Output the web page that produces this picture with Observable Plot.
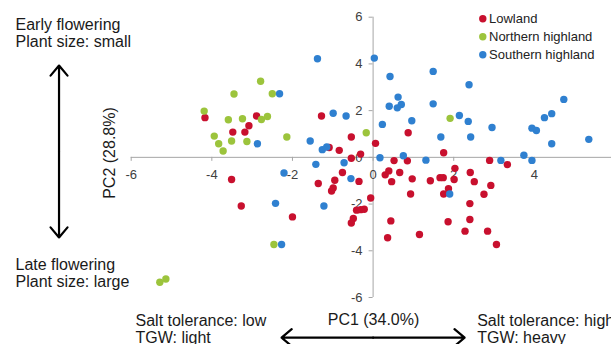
<!DOCTYPE html>
<html><head><meta charset="utf-8">
<script src="https://cdn.jsdelivr.net/npm/d3@7"></script>
<script src="https://cdn.jsdelivr.net/npm/@observablehq/plot@0.6"></script>
<style>
html,body{margin:0;padding:0;background:#fff;overflow:hidden;}
#chart{width:611px;height:344px;overflow:hidden;}
</style></head><body><div id="chart"></div>
<script>
// ---- data ----
const categories = ["Lowland", "Northern highland", "Southern highland"];
const colors = ["#c8102e", "#9cc43c", "#2f80d0"];

const lowland = [
  [-4.17,1.70],[-3.48,1.08],[-3.18,1.08],[-3.08,1.35],[-2.89,1.77],[-1.28,1.77],
  [-0.54,0.87],[-0.84,0.30],[-1.09,0.42],[-0.31,0.14],[-0.54,-0.04],[0.06,0.60],
  [0.87,1.05],[1.75,0.20],[0.52,-0.14],[0.85,-0.15],[0.30,-0.75],[0.39,-0.58],
  [0.66,-0.65],[0.46,-1.04],[0.97,-0.92],[0.93,-1.57],[1.42,-1.00],[1.66,-0.87],
  [1.74,-0.87],[-0.35,-1.03],[-0.95,-0.98],[-0.76,-0.65],[-1.36,-1.12],[-0.99,-1.31],
  [-1.03,-1.44],[-0.06,-1.74],[1.75,-1.57],[2.89,-0.13],[3.33,-0.31],[2.03,-0.47],
  [2.01,-0.95],[2.41,-0.65],[2.51,-1.04],[2.92,-1.20],[2.75,-1.58],[1.87,-1.34],
  [2.40,-1.98],[0.44,-2.72],[1.86,-2.76],[2.40,-2.66],[0.36,-3.44],[1.15,-3.30],
  [2.28,-3.16],[2.84,-3.16],[3.06,-3.73],[-3.51,-0.95],[-3.27,-2.08],[-2.00,-2.55],
  [-0.41,-2.26],[-0.31,-2.24],[-0.22,-2.22],[-0.49,-2.62],[-0.54,-2.81]
];
const northernHighland = [
  [-4.19,1.98],[-3.94,0.91],[-3.83,0.58],[-3.72,0.27],[-3.59,1.61],[-3.51,0.70],
  [-3.45,2.71],[-3.24,1.65],[-3.13,0.68],[-2.79,3.26],[-2.77,1.62],[-2.62,1.75],
  [-2.50,2.72],[-2.14,0.87],[-0.17,1.05],[1.91,1.67],[-2.46,-3.73],[-5.29,-5.35],
  [-5.14,-5.21]
];
const southernHighland = [
  [-1.38,4.22],[0.03,4.25],[-2.32,2.72],[-0.99,1.89],[-0.67,1.77],[-2.87,0.58],
  [-1.56,0.70],[-1.26,0.33],[-1.15,0.44],[-0.72,-0.23],[-1.42,-0.30],[-0.55,-0.91],
  [0.17,-0.02],[0.75,0.07],[1.31,-0.12],[0.23,1.41],[0.96,1.57],[0.40,2.19],
  [0.62,2.58],[0.60,2.12],[0.70,2.26],[1.49,2.29],[1.68,0.87],[0.42,3.46],
  [1.49,3.68],[2.38,3.11],[2.14,1.79],[2.36,1.54],[2.42,0.87],[2.95,1.28],
  [3.94,1.25],[4.05,1.15],[4.25,1.70],[4.43,1.87],[4.73,2.48],[4.43,0.58],
  [5.35,0.77],[3.17,-0.13],[3.74,0.09],[3.94,-0.13],[1.90,-1.57],[-2.21,-0.67],
  [-2.42,-1.97],[-1.22,-2.08],[-2.27,-3.73]
];

const xTicks = [-6, -4, -2, 0, 2, 4];
const yTicks = [-6, -4, -2, 0, 2, 4, 6];
const xTitle = "PC1 (34.0%)";
const yTitle = "PC2 (28.8%)";
const topLeftNote = "Early flowering\nPlant size: small";
const bottomLeftNote = "Late flowering\nPlant size: large";
const lowNote = "Salt tolerance: low\nTGW: light";
const highNote = "Salt tolerance: high\nTGW: heavy";

// ---- table ----
const groups = [lowland, northernHighland, southernHighland];
const points = groups.flatMap((g, i) => g.map(([pc1, pc2]) => ({group: categories[i], pc1, pc2})));

// ---- layout / style ----
const W = 611, H = 344;
const xRange = [130.7, 614.5], yRange = [297, 16.7];
const pxX = (xRange[1] - xRange[0]) / 12, pxY = (yRange[0] - yRange[1]) / 12;
const tickY = 4 / pxY, tickXlen = 4 / pxX;
const font = "'Liberation Sans', Arial, sans-serif";
const axisColor = "#a6a6a6";
const labelColor = "#404040";
const noteColor = "#1a1a1a";

// annotation arrows (data units)
const vArrowX = -7.79, vArrowMid = 0.25, vArrowHalf = 3.68;
const hArrowY = -7.72, hArrowMid = 0, hArrowHalf = 2.27;
const arrows = [
  {x1: vArrowX, y1: vArrowMid, x2: vArrowX, y2: vArrowMid + vArrowHalf},
  {x1: vArrowX, y1: vArrowMid, x2: vArrowX, y2: vArrowMid - vArrowHalf},
  {x1: hArrowMid, y1: hArrowY, x2: hArrowMid + hArrowHalf, y2: hArrowY},
  {x1: hArrowMid, y1: hArrowY, x2: hArrowMid - hArrowHalf, y2: hArrowY}
];

const legendMarks = categories.flatMap((c, i) => [
  Plot.dot([c], {frameAnchor: "top-left", dx: 482.3, dy: 18.3 + 18 * i, fill: d => d, r: 3.7}),
  Plot.text([c], {frameAnchor: "top-left", dx: 488.5, dy: 18.3 + 18 * i, text: d => d,
    textAnchor: "start", lineAnchor: "middle", fontSize: 13, fill: "#222"})
]);

const note = (t, dx, dy, lh, anchor = "start") => Plot.text([t], {
  frameAnchor: "top-left", dx, dy, text: d => d, textAnchor: anchor, lineAnchor: "top",
  fontSize: 16, lineHeight: lh, fill: noteColor
});

const chart = Plot.plot({
  width: W, height: H,
  marginTop: 0, marginRight: 0, marginBottom: 0, marginLeft: 0,
  style: {fontFamily: font, background: "#fff", overflow: "hidden"},
  x: {domain: [-6, 6], range: xRange, axis: null},
  y: {domain: [-6, 6], range: yRange, axis: null},
  color: {domain: categories, range: colors},
  marks: [
    // axis lines
    Plot.ruleY([0], {x1: -6, x2: 6.5, stroke: axisColor, strokeWidth: 1}),
    Plot.ruleX([0], {y1: -6, y2: 6, stroke: axisColor, strokeWidth: 1}),
    Plot.ruleX(xTicks, {x: d => d, y1: 0, y2: -tickY, stroke: axisColor}),
    Plot.ruleY(yTicks, {y: d => d, x1: 0, x2: -tickXlen, stroke: axisColor}),
    Plot.text(xTicks, {x: d => d, y: 0, dy: 17.5, text: d => String(d), lineAnchor: "middle",
      fontSize: 13, fill: labelColor}),
    Plot.text(yTicks, {x: 0, y: d => d, dx: -10.5, text: d => String(d), textAnchor: "end",
      lineAnchor: "middle", fontSize: 13, fill: labelColor}),
    // points
    Plot.dot(points, {x: "pc1", y: "pc2", fill: "group", r: 3.7}),
    // legend
    ...legendMarks,
    // axis titles
    Plot.text([xTitle], {frameAnchor: "top-left", dx: 373, dy: 313.6, text: d => d,
      textAnchor: "middle", lineAnchor: "top", fontSize: 16, fill: noteColor}),
    Plot.text([yTitle], {frameAnchor: "top-left", dx: 109, dy: 152.5, text: d => d, rotate: -90,
      textAnchor: "middle", lineAnchor: "middle", fontSize: 16, fill: noteColor}),
    // notes
    note(topLeftNote, 15, 16.6, 1.1),
    note(bottomLeftNote, 15, 256.6, 1.1),
    note(lowNote, 135, 313.6, 1.04),
    note(highNote, 476.7, 313.6, 1.04),
    // arrows
    Plot.arrow(arrows, {x1: "x1", y1: "y1", x2: "x2", y2: "y2", stroke: "#000",
      strokeWidth: 2.2, headLength: 9, headAngle: 80})
  ]
});
document.getElementById("chart").appendChild(chart);
</script>
</body></html>
